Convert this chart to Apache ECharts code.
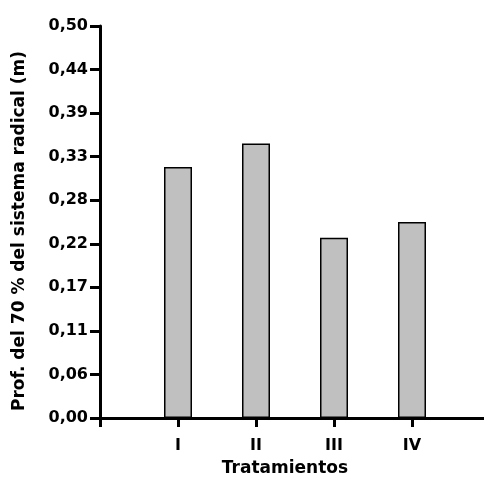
<!DOCTYPE html>
<html>
<head>
<meta charset="utf-8">
<script src="https://cdn.jsdelivr.net/npm/echarts@6/dist/echarts.min.js"></script>
<style>
  html, body { margin: 0; padding: 0; background: #fff; }
  #chart { width: 484px; height: 477px; }
</style>
</head>
<body>
<div id="chart"></div>
<script>
// datos
const categories = ['I', 'II', 'III', 'IV'];
const depth = [0.32, 0.35, 0.23, 0.25];
const yTicks = [0, 0.06, 0.11, 0.17, 0.22, 0.28, 0.33, 0.39, 0.44, 0.50];

const font = 'DejaVu Sans, sans-serif';
const axisStyle = { color: '#000', width: 3 };

const myChart = echarts.init(document.getElementById('chart'));
myChart.setOption({
  animation: false,
  backgroundColor: '#fff',
  grid: { left: 100, right: -6, top: 26, bottom: 59, containLabel: false, outerBoundsMode: 'none' },
  xAxis: {
    type: 'value',
    min: 0,
    max: 5,
    interval: 1,
    name: 'Tratamientos',
    nameLocation: 'middle',
    nameGap: 42,
    nameTextStyle: { fontFamily: font, fontWeight: 'bold', fontSize: 17, color: '#000', padding: [0, 20, 0, 0] },
    axisLine: { lineStyle: axisStyle },
    axisTick: { length: 9, lineStyle: axisStyle },
    splitLine: { show: false },
    axisLabel: {
      margin: 20,
      fontFamily: font, fontWeight: 'bold', fontSize: 16, color: '#000',
      formatter: v => categories[Math.round(v) - 1] || ''
    }
  },
  yAxis: {
    type: 'value',
    min: 0,
    max: 0.5,
    interval: 0.5 / (yTicks.length - 1),
    name: 'Prof. del 70 % del sistema radical (m)',
    nameLocation: 'middle',
    nameRotate: 90,
    nameGap: 72,
    nameTextStyle: { fontFamily: font, fontWeight: 'bold', fontSize: 17, color: '#000', padding: [0, 18, 0, 0] },
    axisLine: { show: true, lineStyle: axisStyle },
    axisTick: { show: true, length: 10, lineStyle: axisStyle },
    splitLine: { show: false },
    axisLabel: {
      margin: 12,
      fontFamily: font, fontWeight: 'bold', fontSize: 16, color: '#000',
      formatter: (v, i) => yTicks[i].toFixed(2).replace('.', ',')
    }
  },
  series: [{
    type: 'bar',
    barWidth: 28,
    data: depth.map((d, i) => [i + 1, d]),
    itemStyle: { color: '#c0c0c0', borderColor: '#000', borderWidth: 1.5 }
  }]
});
</script>
</body>
</html>
